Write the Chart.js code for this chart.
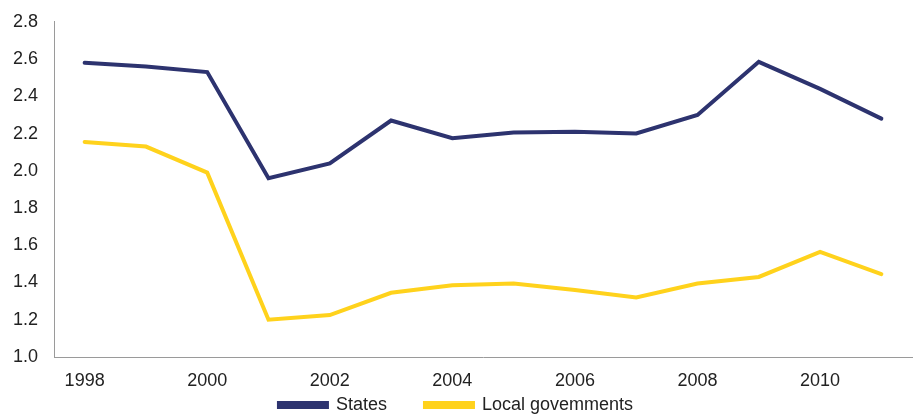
<!DOCTYPE html>
<html>
<head>
<meta charset="utf-8">
<script src="https://cdn.jsdelivr.net/npm/chart.js@4/dist/chart.umd.min.js"></script>
<style>
html,body{margin:0;padding:0;background:#fff;}
#wrap{width:914px;height:416px;position:relative;}
</style>
</head>
<body>
<div id="wrap"><canvas id="c" width="914" height="416"></canvas></div>
<script>
const years = ['1998','1999','2000','2001','2002','2003','2004','2005','2006','2007','2008','2009','2010','2011'];
const states = [2.58, 2.56, 2.53, 1.96, 2.04, 2.27, 2.175, 2.205, 2.21, 2.20, 2.30, 2.585, 2.44, 2.28];
const localGov = [2.155, 2.13, 1.99, 1.20, 1.225, 1.345, 1.385, 1.395, 1.36, 1.32, 1.395, 1.43, 1.565, 1.445];
const yTicks = [1.0, 1.2, 1.4, 1.6, 1.8, 2.0, 2.2, 2.4, 2.6, 2.8];

const navy = '#2d336f';
const yellow = '#ffd21c';
const font = {family: '"Liberation Sans", Arial, sans-serif', size: 18};

new Chart(document.getElementById('c'), {
  type: 'line',
  data: {
    labels: years,
    datasets: [
      {label: 'States', data: states, borderColor: navy, backgroundColor: navy, borderWidth: 4, borderCapStyle: 'round', pointRadius: 0, tension: 0, fill: false},
      {label: 'Local govemments', data: localGov, borderColor: yellow, backgroundColor: yellow, borderWidth: 4, borderCapStyle: 'round', pointRadius: 0, tension: 0, fill: false}
    ]
  },
  options: {
    responsive: false,
    animation: false,
    devicePixelRatio: 1,
    layout: {padding: {top: 0, right: 2, left: 0, bottom: -8}},
    plugins: {
      tooltip: {enabled: false},
      legend: {
        position: 'bottom',
        labels: {font: font, color: '#222', boxWidth: 48, boxHeight: 4, padding: 38}
      }
    },
    scales: {
      x: {
        type: 'category',
        offset: true,
        grid: {display: false, drawTicks: false},
        border: {display: true, color: '#9a9a9a', width: 1},
        afterFit: function(ax) { ax.height = 1; ax._computeLabelArea = function() { return undefined; }; },
        ticks: {
          font: font, color: '#222', autoSkip: false, maxRotation: 0, padding: 13,
          callback: function(v, i) { const l = years[i]; return (parseInt(l) % 2 === 0) ? l : ''; }
        }
      },
      y: {
        min: 1.0, max: 2.8,
        afterBuildTicks: function(ax) { ax.ticks = yTicks.map(v => ({value: v})); },
        afterFit: function(ax) { ax.width = 54; ax.paddingTop = ax.paddingTop - 5; },
        grid: {display: false, drawTicks: false},
        border: {display: true, color: '#9a9a9a', width: 1},
        ticks: {font: font, color: '#222', padding: 16, callback: v => Number(v).toFixed(1)}
      }
    }
  }
});
</script>
</body>
</html>
